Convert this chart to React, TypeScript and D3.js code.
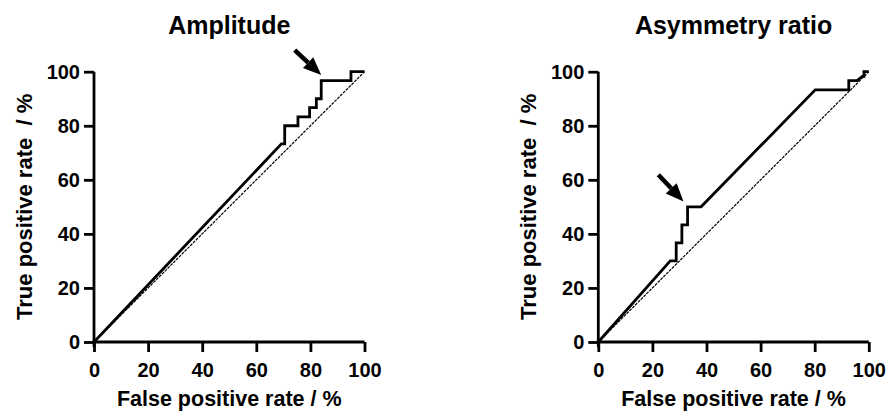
import React, { useEffect, useRef } from 'react';
import * as d3 from 'd3';

// ROC points (false positive rate / true positive rate, %)
const amplitudeFpr = [0, 69.3, 70.5, 70.5, 75.4, 75.4, 79.7, 79.7, 82.2, 82.2, 84, 84, 95, 95, 100];
const amplitudeTpr = [0, 73.3, 73.3, 80, 80, 83.3, 83.3, 86.7, 86.7, 90, 90, 96.7, 96.7, 100, 100];

const asymmetryFpr = [0, 26.6, 28.8, 28.8, 30.9, 30.9, 33, 33, 38, 80.2, 92.6, 92.6, 95.7, 97.6, 98.2, 98.2, 100];
const asymmetryTpr = [0, 30, 30, 36.7, 36.7, 43.3, 43.3, 50, 50, 93.3, 93.3, 96.7, 96.7, 98.3, 98.3, 100, 100];

// arrow annotations: [tailX, tailY, tipX, tipY] in data units
const amplitudeArrow = [74.2, 108, 84, 98.8];
const asymmetryArrow = [22.2, 61.9, 31.5, 52];

const ticks = [0, 20, 40, 60, 80, 100];
const xLabel = 'False positive rate / %';
const yLabel = 'True positive rate  / %';

const panels = [
  { title: 'Amplitude', fpr: amplitudeFpr, tpr: amplitudeTpr, arrow: amplitudeArrow, left: 94 },
  { title: 'Asymmetry ratio', fpr: asymmetryFpr, tpr: asymmetryTpr, arrow: asymmetryArrow, left: 598.3 },
];

const font = '"Liberation Sans", Arial, sans-serif';

export default function App() {
  const ref = useRef<SVGSVGElement>(null);

  useEffect(() => {
    if (!ref.current) return;
    const svg = d3.select(ref.current);
    svg.selectAll('*').remove();

    const top = 71.7;
    const bottom = 342;
    const w = 270.5;

    panels.forEach((p) => {
      const x = d3.scaleLinear().domain([0, 100]).range([p.left, p.left + w]);
      const y = d3.scaleLinear().domain([0, 100]).range([bottom, top]);
      const g = svg.append('g');

      // chance line
      g.append('line')
        .attr('x1', x(0)).attr('y1', y(0))
        .attr('x2', x(100)).attr('y2', y(100))
        .attr('stroke', '#000')
        .attr('stroke-width', 1.2)
        .attr('stroke-dasharray', '3,1');

      const pts = p.fpr.map((v, i) => [v, p.tpr[i]] as [number, number]);
      g.append('path')
        .datum(pts)
        .attr('fill', 'none')
        .attr('stroke', '#000')
        .attr('stroke-width', 2.8)
        .attr('stroke-linejoin', 'miter')
        .attr('d', d3.line<[number, number]>().x((d) => x(d[0])).y((d) => y(d[1])));

      const xAxis = g.append('g')
        .attr('transform', `translate(0,${bottom})`)
        .call(d3.axisBottom(x).tickValues(ticks).tickSize(10).tickPadding(11).tickSizeOuter(0));
      const yAxis = g.append('g')
        .attr('transform', `translate(${p.left},0)`)
        .call(d3.axisLeft(y).tickValues(ticks).tickSize(10).tickPadding(4).tickSizeOuter(0));

      [xAxis, yAxis].forEach((a) => {
        a.select('.domain').attr('stroke-width', 2.8);
        a.selectAll('.tick line').attr('stroke-width', 2.8);
        a.selectAll('.tick text')
          .attr('font-family', font)
          .attr('font-weight', 'bold')
          .attr('font-size', 20)
          .attr('fill', '#000');
      });
      xAxis.select('.domain').attr('d', `M${p.left - 1.4},0H${p.left + w}`);
      yAxis.select('.domain').attr('d', `M0,${bottom + 5}V${top}`);

      // arrow
      const [tx0, ty0, tx1, ty1] = p.arrow;
      const ax0 = x(tx0), ay0 = y(ty0), ax1 = x(tx1), ay1 = y(ty1);
      const ang = Math.atan2(ay1 - ay0, ax1 - ax0);
      const headLen = 18;
      const headW = 7.5;
      const bx = ax1 - headLen * Math.cos(ang);
      const by = ay1 - headLen * Math.sin(ang);
      g.append('line')
        .attr('x1', ax0).attr('y1', ay0)
        .attr('x2', bx).attr('y2', by)
        .attr('stroke', '#000')
        .attr('stroke-width', 4.5);
      g.append('polygon')
        .attr('points', [
          [ax1, ay1],
          [bx + headW * Math.sin(ang), by - headW * Math.cos(ang)],
          [bx - headW * Math.sin(ang), by + headW * Math.cos(ang)],
        ].map((q) => q.join(',')).join(' '))
        .attr('fill', '#000');

      const cx = p.left + w / 2;
      g.append('text')
        .attr('x', cx).attr('y', 34)
        .attr('text-anchor', 'middle')
        .attr('font-family', font).attr('font-weight', 'bold').attr('font-size', 25)
        .text(p.title);

      g.append('text')
        .attr('x', cx).attr('y', 406)
        .attr('text-anchor', 'middle')
        .attr('font-family', font).attr('font-weight', 'bold').attr('font-size', 21.5)
        .text(xLabel);

      g.append('text')
        .attr('transform', `translate(${p.left - 62},${(top + bottom) / 2}) rotate(-90)`)
        .attr('text-anchor', 'middle')
        .attr('font-family', font).attr('font-weight', 'bold').attr('font-size', 22)
        .attr('xml:space', 'preserve')
        .style('white-space', 'pre')
        .text(yLabel);
    });
  }, []);

  return (
    <svg
      ref={ref}
      width={886}
      height={413}
      style={{ position: 'absolute', left: 0, top: 0, background: '#fff' }}
    />
  );
}
